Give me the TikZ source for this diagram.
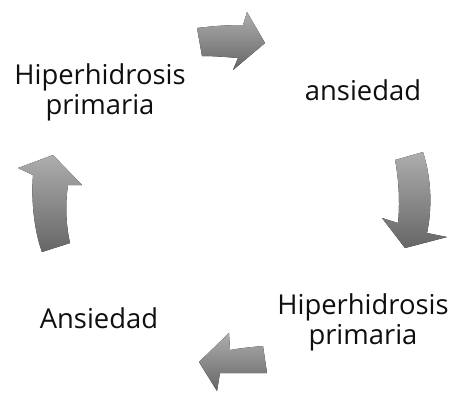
\documentclass[tikz,border=0pt]{standalone}
\usepackage{fontspec}
\setmainfont{Open Sans}
\usetikzlibrary{positioning}
\definecolor{arrowlight}{gray}{0.68}
\definecolor{arrowdark}{gray}{0.40}
\definecolor{textgray}{gray}{0.06}

\begin{document}
\begin{tikzpicture}[
    x=1bp, y=-1bp,
    steptext/.style={align=center, text=textgray, inner sep=0pt,
        font=\fontsize{27.5}{30}\selectfont},
    cyclearrow/.style={top color=arrowlight, bottom color=arrowdark, draw=none}
  ]
  \useasboundingbox (0,0) rectangle (454,392);
  % the four steps of the cycle
  \node[steptext, anchor=base] (hip1) at (100,114) {Hiperhidrosis\\primaria};
  \node[steptext, anchor=base] (ans1) at (363,100) {ansiedad};
  \node[steptext, anchor=base] (hip2) at (363,344) {Hiperhidrosis\\primaria};
  \node[steptext, anchor=base] (ans2) at (99,328) {Ansiedad};
  % curved block arrows between them
  \fill[cyclearrow] (197,28) .. controls (213,26) and (228,25) .. (243,25)
    -- (247,12) -- (265,43) -- (233,70) -- (238,58)
    .. controls (226,57) and (214,56) .. (202,56) -- cycle;
  \fill[cyclearrow] (395,160) -- (423,152)
    .. controls (432,180) and (432,210) .. (427,233)
    -- (447,237) -- (405,248) -- (382,218) -- (398,223)
    .. controls (400,205) and (399,180) .. (395,160) -- cycle;
  \fill[cyclearrow] (263,346) -- (267,373)
    .. controls (252,373) and (236,373) .. (220,373)
    -- (217,391) -- (199,362) -- (229,333) -- (230,350)
    .. controls (241,348) and (252,347) .. (263,346) -- cycle;
  \fill[cyclearrow] (42,252) -- (70,243)
    .. controls (66,225) and (65,205) .. (68,185)
    -- (82,185) -- (53,155) -- (18,168) -- (33,175)
    .. controls (31,200) and (34,230) .. (42,252) -- cycle;
\end{tikzpicture}
\end{document}
